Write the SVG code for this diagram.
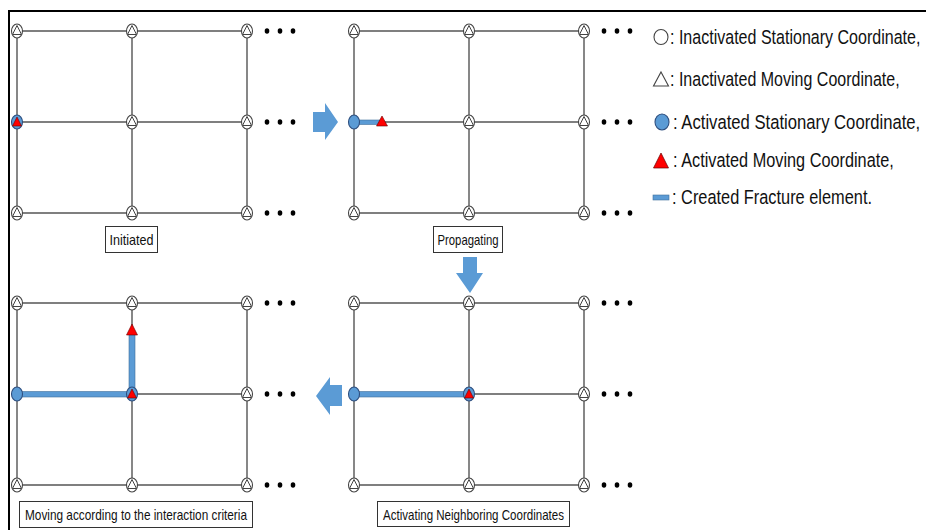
<svg xmlns="http://www.w3.org/2000/svg" xmlns:xlink="http://www.w3.org/1999/xlink" width="926" height="530" viewBox="0 0 926 530">
<style>
.grid{stroke:#555;stroke-width:1.4;fill:none}
.frac{fill:#5b9bd5;stroke:#41719c;stroke-width:0.6}
.blk{fill:#5b9bd5}
.lbl{fill:#fff;stroke:#333;stroke-width:1}
.lt{font-family:"Liberation Sans",Arial,sans-serif;font-size:14.5px;fill:#111}
.lg{font-family:"Liberation Sans",Arial,sans-serif;font-size:19.5px;fill:#111}
.dot{fill:#000}
</style>
<defs>
<g id="inact">
<ellipse cx="0" cy="0" rx="5.5" ry="7" fill="#fff" stroke="#444" stroke-width="1.1"/>
<polygon points="0,-5.5 4.5,3.5 -4.5,3.5" fill="#fff" stroke="#444" stroke-width="1"/>
</g>
<g id="actS">
<ellipse cx="0" cy="0" rx="5.5" ry="7" fill="#5b9bd5" stroke="#2f4f7f" stroke-width="1.1"/>
</g>
<g id="actM">
<ellipse cx="0" cy="0" rx="5.5" ry="7" fill="#5b9bd5" stroke="#2f4f7f" stroke-width="1.1"/>
<polygon points="0,-5 4.5,4 -4.5,4" fill="#f00" stroke="#600" stroke-width="0.6"/>
</g>
<g id="dots">
<ellipse cx="0" cy="0" rx="2.3" ry="2.8" class="dot"/>
<ellipse cx="13" cy="0" rx="2.3" ry="2.8" class="dot"/>
<ellipse cx="26" cy="0" rx="2.3" ry="2.8" class="dot"/>
</g>
</defs>
<rect width="926" height="530" fill="#fff"/>
<g id="frame" stroke="#000" stroke-width="2" fill="none">
<line x1="9" y1="11" x2="926" y2="11"/>
<line x1="9" y1="10" x2="9" y2="530"/>
</g>
<g id="connectors">
<g class="grid">
<path d="M17,31H247M17,122H247M17,213H247M17,31V213M132,31V213M247,31V213"/>
<path d="M354,31H584M354,122H584M354,213H584M354,31V213M469,31V213M584,31V213"/>
<path d="M17,303H247M17,394H247M17,485H247M17,303V485M132,303V485M247,303V485"/>
<path d="M354,303H584M354,394H584M354,485H584M354,303V485M469,303V485M584,303V485"/>
</g>
<rect class="frac" x="354" y="120" width="26" height="4.5"/>
<rect class="frac" x="354" y="391.5" width="115" height="5.5"/>
<rect class="frac" x="17" y="391.5" width="115" height="5.5"/>
<rect class="frac" x="129" y="332" width="6" height="62"/>
<polygon class="blk" points="313,112 325,112 325,103 338,122 325,140 325,132 313,132"/>
<polygon class="blk" points="463,257 477,257 477,273 483,273 470,293 456,273 463,273"/>
<polygon class="blk" points="342,385 330,385 330,377 316,396 330,415 330,406 342,406"/>
</g>
<g id="dots-group">
<use xlink:href="#dots" x="267" y="31"/><use xlink:href="#dots" x="267" y="122"/><use xlink:href="#dots" x="267" y="213"/>
<use xlink:href="#dots" x="604" y="31"/><use xlink:href="#dots" x="604" y="122"/><use xlink:href="#dots" x="604" y="213"/>
<use xlink:href="#dots" x="267" y="303"/><use xlink:href="#dots" x="267" y="394"/><use xlink:href="#dots" x="267" y="485"/>
<use xlink:href="#dots" x="604" y="303"/><use xlink:href="#dots" x="604" y="394"/><use xlink:href="#dots" x="604" y="485"/>
</g>
<g id="p1-n11"><use xlink:href="#inact" x="17" y="31"/></g>
<g id="p1-n12"><use xlink:href="#inact" x="132" y="31"/></g>
<g id="p1-n13"><use xlink:href="#inact" x="247" y="31"/></g>
<g id="p1-n21"><use xlink:href="#actM" x="17" y="122"/></g>
<g id="p1-n22"><use xlink:href="#inact" x="132" y="122"/></g>
<g id="p1-n23"><use xlink:href="#inact" x="247" y="122"/></g>
<g id="p1-n31"><use xlink:href="#inact" x="17" y="213"/></g>
<g id="p1-n32"><use xlink:href="#inact" x="132" y="213"/></g>
<g id="p1-n33"><use xlink:href="#inact" x="247" y="213"/></g>
<g id="p2-n11"><use xlink:href="#inact" x="354" y="31"/></g>
<g id="p2-n12"><use xlink:href="#inact" x="469" y="31"/></g>
<g id="p2-n13"><use xlink:href="#inact" x="584" y="31"/></g>
<g id="p2-n21"><use xlink:href="#actS" x="354" y="122"/></g>
<g id="p2-m"><polygon points="382,116 387.5,126 376.5,126" fill="#f00" stroke="#600" stroke-width="0.6"/></g>
<g id="p2-n22"><use xlink:href="#inact" x="469" y="122"/></g>
<g id="p2-n23"><use xlink:href="#inact" x="584" y="122"/></g>
<g id="p2-n31"><use xlink:href="#inact" x="354" y="213"/></g>
<g id="p2-n32"><use xlink:href="#inact" x="469" y="213"/></g>
<g id="p2-n33"><use xlink:href="#inact" x="584" y="213"/></g>
<g id="p3-n11"><use xlink:href="#inact" x="354" y="303"/></g>
<g id="p3-n12"><use xlink:href="#inact" x="469" y="303"/></g>
<g id="p3-n13"><use xlink:href="#inact" x="584" y="303"/></g>
<g id="p3-n21"><use xlink:href="#actS" x="354" y="394"/></g>
<g id="p3-n22"><use xlink:href="#actM" x="469" y="394"/></g>
<g id="p3-n23"><use xlink:href="#inact" x="584" y="394"/></g>
<g id="p3-n31"><use xlink:href="#inact" x="354" y="485"/></g>
<g id="p3-n32"><use xlink:href="#inact" x="469" y="485"/></g>
<g id="p3-n33"><use xlink:href="#inact" x="584" y="485"/></g>
<g id="p4-n11"><use xlink:href="#inact" x="17" y="303"/></g>
<g id="p4-n12"><use xlink:href="#inact" x="132" y="303"/></g>
<g id="p4-n13"><use xlink:href="#inact" x="247" y="303"/></g>
<g id="p4-m"><polygon points="132,324 137.5,335 126.5,335" fill="#f00" stroke="#600" stroke-width="0.6"/></g>
<g id="p4-n21"><use xlink:href="#actS" x="17" y="394"/></g>
<g id="p4-n22"><use xlink:href="#actM" x="132" y="394"/></g>
<g id="p4-n23"><use xlink:href="#inact" x="247" y="394"/></g>
<g id="p4-n31"><use xlink:href="#inact" x="17" y="485"/></g>
<g id="p4-n32"><use xlink:href="#inact" x="132" y="485"/></g>
<g id="p4-n33"><use xlink:href="#inact" x="247" y="485"/></g>
<g id="lbl-initiated"><rect class="lbl" x="105.5" y="226.5" width="52" height="26"/><text class="lt" x="131.5" y="244.5" text-anchor="middle" textLength="44" lengthAdjust="spacingAndGlyphs">Initiated</text></g>
<g id="lbl-propagating"><rect class="lbl" x="433.5" y="226.5" width="69" height="26"/><text class="lt" x="468" y="244.5" text-anchor="middle" textLength="61" lengthAdjust="spacingAndGlyphs">Propagating</text></g>
<g id="lbl-moving"><rect class="lbl" x="19.5" y="501.5" width="233" height="26"/><text class="lt" x="136" y="519.5" text-anchor="middle" textLength="222" lengthAdjust="spacingAndGlyphs">Moving according to the interaction criteria</text></g>
<g id="lbl-activating"><rect class="lbl" x="377.5" y="501.5" width="192" height="25"/><text class="lt" x="473.5" y="519.5" text-anchor="middle" textLength="181" lengthAdjust="spacingAndGlyphs">Activating Neighboring Coordinates</text></g>
<g id="legend">
<ellipse cx="661" cy="37" rx="7" ry="7.5" fill="#fff" stroke="#444" stroke-width="1.1"/>
<text class="lg" transform="translate(670,44) scale(0.8,1)" textLength="313" lengthAdjust="spacingAndGlyphs">: Inactivated Stationary Coordinate,</text>
<polygon points="661,72 668.5,86 653.5,86" fill="#fff" stroke="#444" stroke-width="1.1"/>
<text class="lg" transform="translate(670,86) scale(0.8,1)" textLength="287" lengthAdjust="spacingAndGlyphs">: Inactivated Moving Coordinate,</text>
<ellipse cx="662" cy="122" rx="7" ry="8" fill="#5b9bd5" stroke="#2f4f7f" stroke-width="1.1"/>
<text class="lg" transform="translate(673,129) scale(0.8,1)" textLength="309" lengthAdjust="spacingAndGlyphs">: Activated Stationary Coordinate,</text>
<polygon points="661,153 668.5,168 653.5,168" fill="#f00" stroke="#600" stroke-width="0.7"/>
<text class="lg" transform="translate(673,167) scale(0.8,1)" textLength="276" lengthAdjust="spacingAndGlyphs">: Activated Moving Coordinate,</text>
<rect x="653" y="195" width="16" height="5" fill="#5b9bd5" stroke="#41719c" stroke-width="0.6"/>
<text class="lg" transform="translate(672,204) scale(0.8,1)" textLength="250" lengthAdjust="spacingAndGlyphs">: Created Fracture element.</text>
</g>
</svg>
